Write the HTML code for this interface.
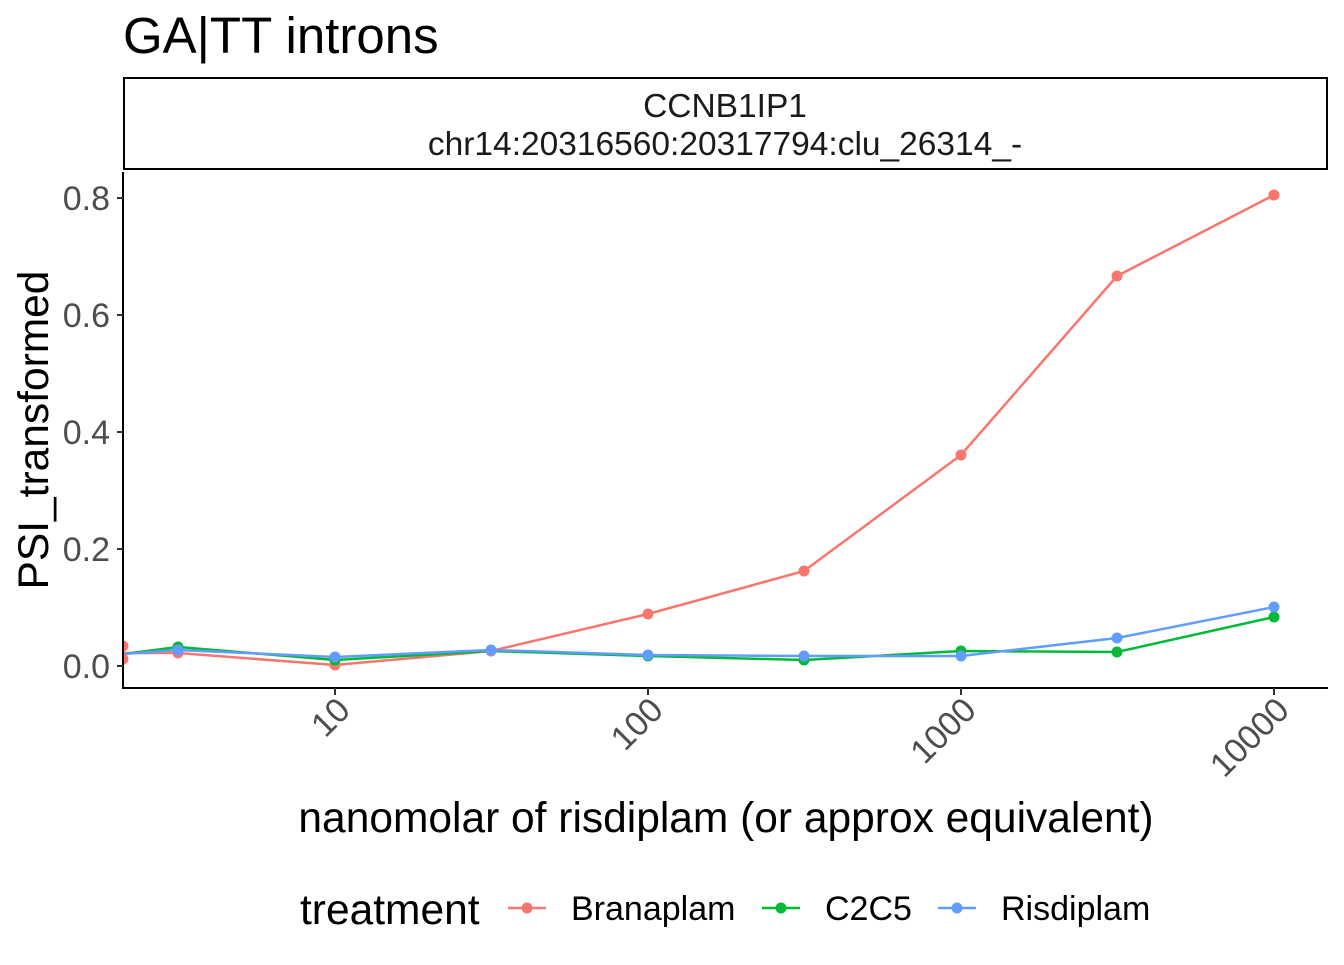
<!DOCTYPE html>
<html><head><style>body{margin:0;background:#fff}</style></head><body>
<svg width="1344" height="960" xmlns="http://www.w3.org/2000/svg" font-family="Liberation Sans, sans-serif">
<defs><clipPath id="c"><rect x="123" y="172" width="1205" height="516"/></clipPath></defs>
<text x="123" y="53" font-size="51">GA|TT introns</text>
<rect x="124" y="78" width="1203" height="91" fill="#fff" stroke="#000" stroke-width="2"/>
<text x="725" y="117" font-size="33.5" text-anchor="middle" fill="#1a1a1a">CCNB1IP1</text>
<text x="725" y="155" font-size="33.5" text-anchor="middle" fill="#1a1a1a">chr14:20316560:20317794:clu_26314_-</text>
<g clip-path="url(#c)" stroke-width="2.5" fill="none">
<polyline stroke="#F8766D" points="123,653 178,653 335,665 491,651 648,614 804,571 961,455 1117,276 1274,195"/>
<polyline stroke="#00BA38" points="123,654 178,647 335,660 491,651 648,656 804,660 961,651 1117,652 1274,617"/>
<polyline stroke="#619CFF" points="123,654 178,650 335,657 491,650 648,655 804,656 961,656 1117,638 1274,607"/>
<g fill="#F8766D" stroke="none"><circle cx="123" cy="646" r="5.5"/><circle cx="123" cy="659" r="5.5"/><circle cx="178" cy="653" r="5.5"/><circle cx="335" cy="665" r="5.5"/><circle cx="491" cy="651" r="5.5"/><circle cx="648" cy="614" r="5.5"/><circle cx="804" cy="571" r="5.5"/><circle cx="961" cy="455" r="5.5"/><circle cx="1117" cy="276" r="5.5"/><circle cx="1274" cy="195" r="5.5"/></g>
<g fill="#00BA38" stroke="none"><circle cx="178" cy="647" r="5.5"/><circle cx="335" cy="660" r="5.5"/><circle cx="648" cy="656" r="5.5"/><circle cx="804" cy="660" r="5.5"/><circle cx="961" cy="651" r="5.5"/><circle cx="1117" cy="652" r="5.5"/><circle cx="1274" cy="617" r="5.5"/></g>
<g fill="#619CFF" stroke="none"><circle cx="178" cy="650" r="5.5"/><circle cx="335" cy="657" r="5.5"/><circle cx="491" cy="650" r="5.5"/><circle cx="648" cy="655" r="5.5"/><circle cx="804" cy="656" r="5.5"/><circle cx="961" cy="656" r="5.5"/><circle cx="1117" cy="638" r="5.5"/><circle cx="1274" cy="607" r="5.5"/></g>
</g>
<g stroke="#000" stroke-width="2" fill="none">
<polyline points="123,172 123,688 1328,688"/>
<path d="M117 198H123M117 315H123M117 432H123M117 549H123M117 666H123M335 688V695M648 688V695M961 688V695M1274 688V695" stroke="#333"/>
</g>
<g font-size="34" fill="#4d4d4d" text-anchor="end">
<text x="110" y="210">0.8</text><text x="110" y="327">0.6</text><text x="110" y="444">0.4</text><text x="110" y="561">0.2</text><text x="110" y="678">0.0</text>
<text transform="translate(352,712) rotate(-45)">10</text>
<text transform="translate(665,712) rotate(-45)">100</text>
<text transform="translate(978,712) rotate(-45)">1000</text>
<text transform="translate(1291,712) rotate(-45)">10000</text>
</g>
<text transform="translate(48,430) rotate(-90)" font-size="42.5" text-anchor="middle">PSI_transformed</text>
<text x="726" y="832" font-size="42.5" text-anchor="middle">nanomolar of risdiplam (or approx equivalent)</text>
<text x="300" y="924" font-size="42.5">treatment</text>
<g stroke-width="2.5"><line x1="508" y1="908" x2="546" y2="908" stroke="#F8766D"/><circle cx="527" cy="908" r="5.5" fill="#F8766D"/>
<line x1="762" y1="908" x2="800" y2="908" stroke="#00BA38"/><circle cx="781" cy="908" r="5.5" fill="#00BA38"/>
<line x1="938" y1="908" x2="976" y2="908" stroke="#619CFF"/><circle cx="957" cy="908" r="5.5" fill="#619CFF"/></g>
<g font-size="34"><text x="571" y="920">Branaplam</text><text x="825" y="920">C2C5</text><text x="1001" y="920">Risdiplam</text></g>
</svg>
</body></html>
